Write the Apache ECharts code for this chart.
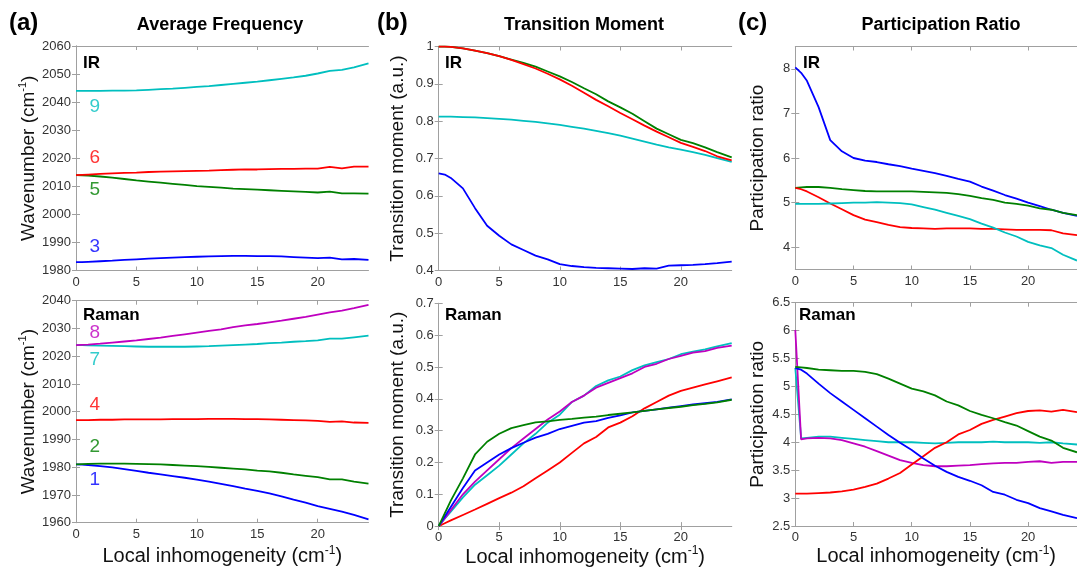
<!DOCTYPE html>
<html>
<head>
<meta charset="utf-8">
<title>Average frequency, transition moment, participation ratio</title>
<script src="https://cdn.jsdelivr.net/npm/echarts@6/dist/echarts.min.js"></script>
<style>
html, body { margin: 0; padding: 0; background: #fff; }
#chart { width: 1077px; height: 568px; }
</style>
</head>
<body>
<div id="chart"></div>
<script>
// local inhomogeneity (cm-1), shared x values of every curve
var inhom = [0, 0.5, 1, 2, 3, 4, 5, 6, 7, 8, 9, 10, 11, 12, 13, 14, 15, 16, 17, 18, 19, 20, 21, 22, 23, 24.2];

// (a) average frequency, IR modes 3, 5, 6, 9
var freqIR3 = [1983, 1983, 1983.1, 1983.3, 1983.5, 1983.8, 1984, 1984.2, 1984.4, 1984.6, 1984.8, 1984.9, 1985, 1985.1, 1985.2, 1985.2, 1985.1, 1985.1, 1985, 1984.8, 1984.6, 1984.4, 1984.6, 1984, 1984.1, 1983.8];
var freqIR5 = [2014, 2013.9, 2013.8, 2013.5, 2013.1, 2012.6, 2012.1, 2011.7, 2011.3, 2010.9, 2010.5, 2010.1, 2009.8, 2009.5, 2009.2, 2009, 2008.8, 2008.6, 2008.4, 2008.2, 2008, 2007.8, 2008.1, 2007.5, 2007.5, 2007.4];
var freqIR6 = [2014, 2014.1, 2014.2, 2014.4, 2014.6, 2014.8, 2014.9, 2015.1, 2015.2, 2015.3, 2015.4, 2015.5, 2015.6, 2015.8, 2015.9, 2016, 2016, 2016.1, 2016.2, 2016.2, 2016.3, 2016.3, 2016.9, 2016.4, 2017, 2017];
var freqIR9 = [2044, 2044, 2044, 2044, 2044.1, 2044.1, 2044.2, 2044.4, 2044.6, 2044.8, 2045.1, 2045.4, 2045.7, 2046.1, 2046.5, 2046.9, 2047.3, 2047.8, 2048.3, 2048.8, 2049.4, 2050.2, 2051.1, 2051.5, 2052.4, 2053.8];
// (a) average frequency, Raman modes 1, 2, 4, 7, 8
var freqR1 = [1981, 1980.9, 1980.8, 1980.4, 1979.9, 1979.3, 1978.7, 1978, 1977.4, 1976.8, 1976.2, 1975.5, 1974.8, 1974, 1973.2, 1972.3, 1971.5, 1970.6, 1969.5, 1968.3, 1967.2, 1966, 1965, 1964, 1962.8, 1961.2];
var freqR2 = [1981, 1981.1, 1981.2, 1981.3, 1981.3, 1981.3, 1981.2, 1981.1, 1981, 1980.8, 1980.6, 1980.4, 1980.1, 1979.8, 1979.5, 1979.2, 1978.8, 1978.5, 1978, 1977.4, 1976.9, 1976.4, 1975.6, 1975.6, 1974.8, 1974.1];
var freqR4 = [1997, 1997, 1997, 1997.1, 1997.1, 1997.2, 1997.2, 1997.2, 1997.2, 1997.3, 1997.3, 1997.3, 1997.4, 1997.4, 1997.4, 1997.3, 1997.3, 1997.2, 1997.1, 1997, 1996.9, 1996.7, 1996.3, 1996.5, 1996.1, 1996];
var freqR7 = [2024, 2024, 2023.9, 2023.8, 2023.7, 2023.6, 2023.5, 2023.4, 2023.4, 2023.4, 2023.4, 2023.5, 2023.6, 2023.8, 2024, 2024.2, 2024.4, 2024.7, 2024.9, 2025.2, 2025.4, 2025.7, 2026.3, 2026.3, 2026.8, 2027.4];
var freqR8 = [2024, 2024.1, 2024.2, 2024.5, 2024.9, 2025.3, 2025.7, 2026.2, 2026.7, 2027.3, 2027.9, 2028.5, 2029.1, 2029.7, 2030.5, 2031.1, 2031.6, 2032.2, 2032.8, 2033.5, 2034.2, 2035, 2035.8, 2036.4, 2037.3, 2038.5];

// (b) transition moment (a.u.)
var tmIR3 = [0.66, 0.657, 0.648, 0.62, 0.567, 0.52, 0.493, 0.47, 0.455, 0.44, 0.43, 0.417, 0.412, 0.409, 0.407, 0.406, 0.405, 0.404, 0.406, 0.405, 0.413, 0.414, 0.415, 0.417, 0.42, 0.424];
var tmIR5 = [1, 1, 0.999, 0.995, 0.989, 0.982, 0.974, 0.965, 0.956, 0.946, 0.933, 0.92, 0.905, 0.888, 0.872, 0.853, 0.837, 0.82, 0.8, 0.78, 0.765, 0.75, 0.741, 0.73, 0.717, 0.703];
var tmIR6 = [1, 1, 0.999, 0.995, 0.989, 0.982, 0.974, 0.964, 0.953, 0.941, 0.927, 0.912, 0.895, 0.876, 0.857, 0.84, 0.822, 0.805, 0.788, 0.772, 0.757, 0.742, 0.731, 0.72, 0.706, 0.695];
var tmIR9 = [0.812, 0.812, 0.812, 0.811, 0.81, 0.808, 0.806, 0.804, 0.801, 0.798, 0.794, 0.79, 0.785, 0.78, 0.774, 0.768, 0.761, 0.753, 0.745, 0.737, 0.73, 0.724, 0.717, 0.71, 0.701, 0.691];
var tmR1 = [0, 0.03, 0.06, 0.12, 0.175, 0.2, 0.225, 0.245, 0.262, 0.278, 0.29, 0.305, 0.315, 0.325, 0.33, 0.34, 0.348, 0.357, 0.362, 0.367, 0.372, 0.377, 0.382, 0.386, 0.39, 0.398];
var tmR2 = [0, 0.04, 0.08, 0.15, 0.225, 0.265, 0.29, 0.308, 0.317, 0.326, 0.329, 0.334, 0.337, 0.341, 0.344, 0.349, 0.353, 0.357, 0.362, 0.367, 0.371, 0.375, 0.38, 0.384, 0.389, 0.397];
var tmR4 = [0, 0.009, 0.018, 0.035, 0.052, 0.07, 0.088, 0.105, 0.125, 0.15, 0.175, 0.2, 0.23, 0.26, 0.28, 0.31, 0.325, 0.345, 0.37, 0.39, 0.41, 0.425, 0.435, 0.445, 0.455, 0.467];
var tmR7 = [0, 0.023, 0.045, 0.09, 0.13, 0.16, 0.19, 0.225, 0.26, 0.29, 0.325, 0.35, 0.39, 0.41, 0.44, 0.458, 0.47, 0.49, 0.505, 0.515, 0.525, 0.54, 0.548, 0.555, 0.565, 0.575];
var tmR8 = [0, 0.025, 0.05, 0.1, 0.14, 0.175, 0.21, 0.245, 0.275, 0.305, 0.335, 0.36, 0.39, 0.41, 0.435, 0.45, 0.465, 0.48, 0.5, 0.51, 0.525, 0.535, 0.545, 0.55, 0.56, 0.567];

// (c) participation ratio
var prIR3 = [8.03, 7.91, 7.73, 7.14, 6.4, 6.15, 6.0, 5.94, 5.91, 5.86, 5.82, 5.76, 5.71, 5.66, 5.6, 5.53, 5.47, 5.36, 5.27, 5.17, 5.09, 5.0, 4.92, 4.84, 4.77, 4.7];
var prIR5 = [5.33, 5.34, 5.35, 5.35, 5.33, 5.3, 5.28, 5.26, 5.25, 5.25, 5.25, 5.25, 5.24, 5.23, 5.22, 5.19, 5.15, 5.1, 5.06, 5.0, 4.97, 4.93, 4.87, 4.84, 4.77, 4.72];
var prIR6 = [5.33, 5.3, 5.25, 5.12, 4.98, 4.85, 4.72, 4.62, 4.56, 4.5, 4.45, 4.43, 4.42, 4.41, 4.42, 4.42, 4.42, 4.41, 4.41, 4.4, 4.39, 4.39, 4.39, 4.38, 4.31, 4.27];
var prIR9 = [4.97, 4.97, 4.97, 4.97, 4.98, 4.99, 5.0, 5.0, 5.01, 5.0, 4.99, 4.96, 4.9, 4.84, 4.77, 4.7, 4.63, 4.53, 4.44, 4.33, 4.24, 4.12, 4.04, 3.98, 3.83, 3.7];
var prR1 = [5.33, 5.3, 5.23, 5.05, 4.88, 4.73, 4.58, 4.43, 4.28, 4.13, 3.99, 3.86, 3.71, 3.58, 3.47, 3.38, 3.31, 3.23, 3.11, 3.06, 2.97, 2.91, 2.82, 2.76, 2.7, 2.64];
var prR2 = [5.35, 5.34, 5.33, 5.3, 5.29, 5.28, 5.28, 5.26, 5.22, 5.14, 5.05, 4.96, 4.91, 4.84, 4.73, 4.66, 4.56, 4.49, 4.43, 4.36, 4.3, 4.2, 4.1, 4.03, 3.9, 3.82];
var prR4 = [3.08, 3.08, 3.08, 3.09, 3.1, 3.12, 3.15, 3.2, 3.26, 3.35, 3.45, 3.6, 3.75, 3.9, 4.0, 4.14, 4.22, 4.33, 4.4, 4.46, 4.52, 4.56, 4.57, 4.55, 4.58, 4.54];
var prR7 = [5.33, 4.07, 4.08, 4.1, 4.1, 4.08, 4.06, 4.04, 4.02, 4.0, 4.0, 4.0, 3.99, 3.98, 3.99, 4.0, 4.0, 4.0, 4.01, 4.0, 4.0, 4.0, 3.99, 4.0, 3.98, 3.96];
var prR8 = [6.01, 4.05, 4.07, 4.08, 4.07, 4.04, 3.98, 3.92, 3.84, 3.76, 3.68, 3.63, 3.59, 3.57, 3.57, 3.58, 3.59, 3.61, 3.62, 3.63, 3.63, 3.65, 3.66, 3.63, 3.65, 3.65];

// mode numbers written inside panel (a), with their anchor in data units
var modeNamesIR = ['9', '6', '5', '3'];
var modeYIR = [2038.3, 2020.3, 2008.6, 1988.3];
var modeNamesRaman = ['8', '7', '4', '2', '1'];
var modeYRaman = [2028.3, 2018.6, 2002.4, 1987.4, 1975.4];
var modeX = 1.55;

// tick labels
var xTicks = [0, 5, 10, 15, 20];
var freqIRTicks = [1980, 1990, 2000, 2010, 2020, 2030, 2040, 2050, 2060];
var freqRTicks = [1960, 1970, 1980, 1990, 2000, 2010, 2020, 2030, 2040];
var tmIRTicks = [0.4, 0.5, 0.6, 0.7, 0.8, 0.9, 1];
var tmRTicks = [0, 0.1, 0.2, 0.3, 0.4, 0.5, 0.6, 0.7];
var prIRTicks = [4, 5, 6, 7, 8];
var prRTicks = [2.5, 3, 3.5, 4, 4.5, 5, 5.5, 6, 6.5];

var blue = '#0000ff', green = '#008000', red = '#ff0000', cyan = '#00bfbf', magenta = '#bf00bf';
var FONT = 'Liberation Sans, Arial, Helvetica, sans-serif';
var AXIS_COLOR = '#a0a0a0';

var panels = [
  {grid: {left: 76, top: 46, width: 292.5, height: 224.5}, y: [1980, 2060], ticks: freqIRTicks,
   yName: ['Wavenumber (cm', '-1', ')'], yGap: 35, xGap: 0,
   lines: [[freqIR3, blue], [freqIR5, green], [freqIR6, red], [freqIR9, cyan]]},
  {grid: {left: 438.7, top: 46.5, width: 293, height: 224}, y: [0.4, 1], ticks: tmIRTicks,
   yName: ['Transition moment (a.u.)'], yGap: 30, xGap: 0,
   lines: [[tmIR3, blue], [tmIR9, cyan], [tmIR5, green], [tmIR6, red]]},
  {grid: {left: 795.3, top: 46.5, width: 292, height: 223}, y: [3.5, 8.5], ticks: prIRTicks,
   yName: ['Participation ratio'], yGap: 27, xGap: 0,
   lines: [[prIR3, blue], [prIR5, green], [prIR6, red], [prIR9, cyan]]},
  {grid: {left: 76, top: 300.7, width: 292.5, height: 222}, y: [1960, 2040], ticks: freqRTicks,
   yName: ['Wavenumber (cm', '-1', ')'], yGap: 35, xGap: 22,
   lines: [[freqR1, blue], [freqR2, green], [freqR4, red], [freqR7, cyan], [freqR8, magenta]]},
  {grid: {left: 438.7, top: 303.3, width: 293, height: 223.4}, y: [0, 0.7], ticks: tmRTicks,
   yName: ['Transition moment (a.u.)'], yGap: 30, xGap: 18,
   lines: [[tmR4, red], [tmR7, cyan], [tmR8, magenta], [tmR1, blue], [tmR2, green]]},
  {grid: {left: 795.3, top: 302.7, width: 292, height: 223.3}, y: [2.5, 6.5], ticks: prRTicks,
   yName: ['Participation ratio'], yGap: 27, xGap: 18,
   lines: [[prR7, cyan], [prR8, magenta], [prR4, red], [prR1, blue], [prR2, green]]}
];

var nameRich = {
  t: {fontFamily: FONT, fontSize: 19, color: '#111', lineHeight: 22},
  s: {fontFamily: FONT, fontSize: 11, color: '#111', lineHeight: 22, verticalAlign: 'top'}
};

function richName(parts) {
  if (parts.length === 1) return '{t|' + parts[0] + '}';
  return '{t|' + parts[0] + '}{s|' + parts[1] + '}{t|' + parts[2] + '}';
}

function plain(v) { return String(v); }

var grids = [], xAxes = [], yAxes = [], series = [];

panels.forEach(function (p, i) {
  grids.push(p.grid);
  var common = {
    gridIndex: i, type: 'value', scale: true,
    axisLine: {show: true, lineStyle: {color: AXIS_COLOR, width: 1}},
    splitLine: {show: false}
  };
  // bottom x axis
  xAxes.push(Object.assign({}, common, {
    position: 'bottom', min: 0, max: 24.2,
    axisTick: {inside: true, length: 4, customValues: xTicks, lineStyle: {color: AXIS_COLOR}},
    axisLabel: {customValues: xTicks, formatter: plain, margin: 5, color: '#333', fontSize: 13, fontFamily: FONT},
    name: p.xGap ? richName(['Local inhomogeneity (cm', '-1', ')']) : '',
    nameLocation: 'middle', nameGap: p.xGap,
    nameTextStyle: {rich: {
      t: {fontFamily: FONT, fontSize: 20, color: '#111', lineHeight: 24},
      s: {fontFamily: FONT, fontSize: 12, color: '#111', lineHeight: 24, verticalAlign: 'top'}
    }}
  }));
  // top x axis, box edge
  xAxes.push(Object.assign({}, common, {
    position: 'top', min: 0, max: 24.2,
    axisTick: {inside: true, length: 4, customValues: xTicks, lineStyle: {color: AXIS_COLOR}},
    axisLabel: {show: false}
  }));
  // left y axis
  yAxes.push(Object.assign({}, common, {
    position: 'left', min: p.y[0], max: p.y[1],
    axisTick: {inside: true, length: 4, customValues: p.ticks, lineStyle: {color: AXIS_COLOR}},
    axisLabel: {customValues: p.ticks, formatter: plain, margin: 5, color: '#333', fontSize: 13, fontFamily: FONT},
    name: richName(p.yName), nameLocation: 'middle', nameGap: p.yGap,
    nameTextStyle: {rich: nameRich}
  }));
  // right y axis, box edge
  yAxes.push(Object.assign({}, common, {
    position: 'right', min: p.y[0], max: p.y[1],
    axisTick: {inside: true, length: 4, customValues: p.ticks, lineStyle: {color: AXIS_COLOR}},
    axisLabel: {show: false}
  }));

  p.lines.forEach(function (l) {
    series.push({
      type: 'line', xAxisIndex: 2 * i, yAxisIndex: 2 * i,
      data: inhom.map(function (x, k) { return [x, l[0][k]]; }),
      showSymbol: false, symbol: 'none', animation: false, clip: true,
      lineStyle: {color: l[1], width: 1.8}, itemStyle: {color: l[1]}
    });
  });
});

function modeLabels(names, ys, colors, gi) {
  series.push({
    type: 'scatter', xAxisIndex: 2 * gi, yAxisIndex: 2 * gi, animation: false,
    symbolSize: 1, itemStyle: {color: 'rgba(0,0,0,0)'},
    data: names.map(function (n, k) {
      return {name: n, value: [modeX, ys[k]], label: {color: colors[k]}};
    }),
    label: {show: true, position: 'inside', formatter: '{b}', fontSize: 19, fontFamily: FONT}
  });
}
modeLabels(modeNamesIR, modeYIR, [cyan, red, green, blue], 0);
modeLabels(modeNamesRaman, modeYRaman, [magenta, cyan, red, green, blue], 3);

function txt(s, x, y, size, align) {
  return {type: 'text', x: x, y: y, silent: true,
    style: {text: s, font: 'bold ' + size + 'px ' + FONT, fill: '#000',
      textAlign: align, textVerticalAlign: 'middle'}};
}

var chart = echarts.init(document.getElementById('chart'));
chart.setOption({
  backgroundColor: '#fff',
  animation: false,
  grid: grids,
  xAxis: xAxes,
  yAxis: yAxes,
  series: series,
  graphic: [
    txt('(a)', 9, 23, 24, 'left'),
    txt('(b)', 377, 23, 24, 'left'),
    txt('(c)', 738, 23, 24, 'left'),
    txt('Average Frequency', 220, 25, 18, 'center'),
    txt('Transition Moment', 584, 25, 18, 'center'),
    txt('Participation Ratio', 941, 25, 18, 'center'),
    txt('IR', 83, 63, 17, 'left'),
    txt('IR', 445, 63, 17, 'left'),
    txt('IR', 803, 63, 17, 'left'),
    txt('Raman', 83, 315, 17, 'left'),
    txt('Raman', 445, 315, 17, 'left'),
    txt('Raman', 799, 315, 17, 'left')
  ]
});
</script>
</body>
</html>
